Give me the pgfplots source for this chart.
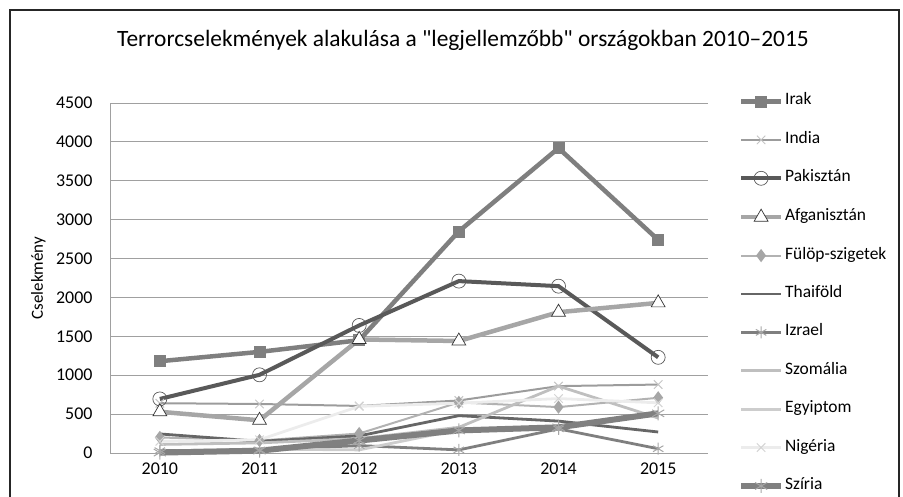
\documentclass[border=0pt]{standalone}
\usepackage{fontspec}
\setmainfont{Carlito}[Ligatures=TeXOff]
\usepackage{pgfplots}
\pgfplotsset{compat=1.18}
\usetikzlibrary{plotmarks}
\definecolor{cIrak}{HTML}{7F7F7F}
\definecolor{cIndia}{HTML}{9C9C9C}
\definecolor{cIndiaM}{HTML}{C4C4C4}
\definecolor{cPak}{HTML}{595959}
\definecolor{cAfg}{HTML}{A6A6A6}
\definecolor{cFul}{HTML}{B2B2B2}
\definecolor{cThai}{HTML}{666666}
\definecolor{cIzr}{HTML}{7F7F7F}
\definecolor{cSzom}{HTML}{BFBFBF}
\definecolor{cEgy}{HTML}{CDCDCD}
\definecolor{cNig}{HTML}{ECECEC}
\definecolor{cSzir}{HTML}{808080}
\definecolor{cGrid}{HTML}{A0A0A0}
\begin{document}
\begin{tikzpicture}[x=1bp,y=1bp]
\useasboundingbox (0,0) rectangle (903,497);
\draw[line width=1.6bp, black!85] (10,-5) -- (10,487) -- (899,487) -- (899,-5);
\node[font=\fontsize{23.5}{26}\selectfont] at (463,457) {Terrorcselekmények alakulása a "legjellemzőbb" országokban 2010–2015};
\begin{axis}[
    at={(110bp,44bp)}, anchor=south west,
    scale only axis, width=598bp, height=350bp,
    xmin=2009.5, xmax=2015.5, ymin=0, ymax=4500,
    xtick={2010,2011,2012,2013,2014,2015},
    ytick={0,500,1000,1500,2000,2500,3000,3500,4000,4500},
    /pgf/number format/1000 sep={},
    /pgf/number format/assume math mode=true,
    ymajorgrids, grid style={cGrid, line width=0.8bp},
    axis x line*=bottom, axis y line*=left,
    axis line style={cGrid, line width=0.8bp},
    tick style={draw=none},
    tick label style={font=\fontsize{18}{20}\selectfont},
    xticklabel style={yshift=-6bp},
    yticklabel style={xshift=-14bp},
    ylabel={Cselekmény},
    every axis y label/.style={at={(axis description cs:-0.12,0.5)}, rotate=90, anchor=center, font=\fontsize{17}{19}\selectfont},
    clip=false,
    legend cell align=left,
    legend image code/.code={\draw[mark repeat=2,mark phase=2] plot coordinates {(0bp,0bp) (20bp,0bp) (40bp,0bp)};},
    legend style={at={(axis description cs:1.045,1.032)}, anchor=north west, draw=none, fill=none,
        font=\fontsize{17.5}{19}\selectfont, row sep=23.4bp,
        nodes={inner sep=1bp, text height=10bp, text depth=3bp}},
]
\addplot[cIrak, line width=4.5bp, mark=square*, mark size=5.5bp, mark options={fill=cIrak, line width=0.5bp}]
    coordinates {(2010,1180) (2011,1300) (2012,1450) (2013,2850) (2014,3920) (2015,2740)};
\addlegendentry{Irak}
\addplot[cIndia, line width=2bp, mark=x, mark size=6bp, mark options={draw=cIndiaM, line width=1bp}]
    coordinates {(2010,640) (2011,630) (2012,605) (2013,675) (2014,860) (2015,880)};
\addlegendentry{India}
\addplot[cPak, line width=4bp, mark=o, mark size=7bp, mark options={draw=cPak, fill=white, line width=0.7bp}]
    coordinates {(2010,695) (2011,1005) (2012,1640) (2013,2210) (2014,2145) (2015,1230)};
\addlegendentry{Pakisztán}
\addplot[cAfg, line width=4.5bp, mark=triangle*, mark size=8bp, mark options={draw=black!80, fill=white, line width=0.7bp}]
    coordinates {(2010,530) (2011,420) (2012,1460) (2013,1440) (2014,1810) (2015,1930)};
\addlegendentry{Afganisztán}
\addplot[cFul, line width=2bp, mark=diamond*, mark size=5bp, mark options={draw=cAfg, fill=cAfg}]
    coordinates {(2010,200) (2011,160) (2012,250) (2013,650) (2014,590) (2015,710)};
\addlegendentry{Fülöp-szigetek}
\addplot[cThai, line width=2.8bp]
    coordinates {(2010,245) (2011,150) (2012,220) (2013,480) (2014,410) (2015,270)};
\addlegendentry{Thaiföld}
\addplot[cIzr, line width=2.8bp, mark=asterisk, mark size=6bp, mark options={draw=cAfg, line width=1bp}]
    coordinates {(2010,30) (2011,40) (2012,95) (2013,40) (2014,310) (2015,55)};
\addlegendentry{Izrael}
\addplot[cSzom, line width=2.8bp]
    coordinates {(2010,110) (2011,130) (2012,185) (2013,330) (2014,860) (2015,450)};
\addlegendentry{Szomália}
\addplot[cEgy, line width=2.8bp]
    coordinates {(2010,15) (2011,50) (2012,40) (2013,300) (2014,340) (2015,500)};
\addlegendentry{Egyiptom}
\addplot[cNig, line width=2.8bp, mark=x, mark size=6bp, mark options={draw=cNig!90!black, line width=1bp}]
    coordinates {(2010,150) (2011,170) (2012,600) (2013,640) (2014,700) (2015,645)};
\addlegendentry{Nigéria}
\addplot[cSzir, line width=6bp, mark=asterisk, mark size=7bp, mark options={draw=cAfg, line width=1bp}]
    coordinates {(2010,5) (2011,30) (2012,160) (2013,290) (2014,330) (2015,510)};
\addlegendentry{Szíria}
\end{axis}
\end{tikzpicture}
\end{document}
